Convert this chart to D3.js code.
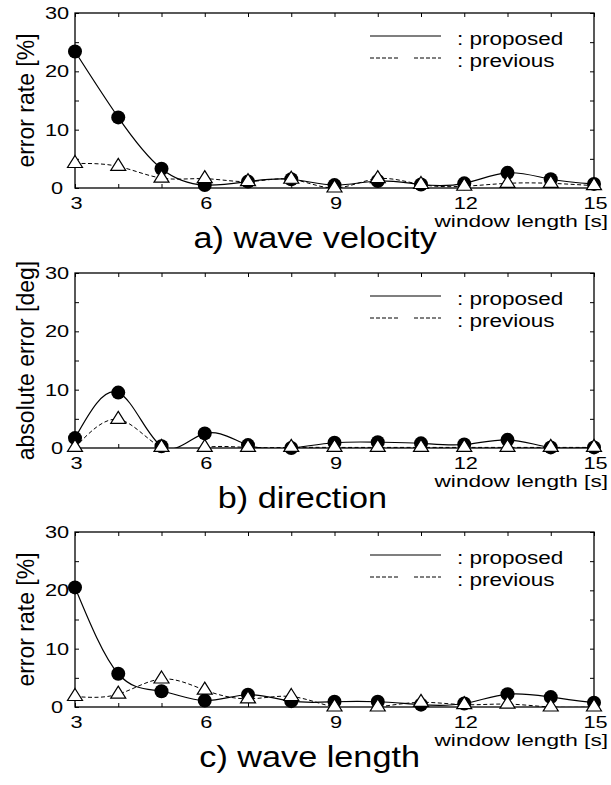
<!DOCTYPE html>
<html>
<head>
<meta charset="utf-8">
<script src="https://cdn.jsdelivr.net/npm/d3@7"></script>
<style>
  html, body { margin: 0; padding: 0; background: #fff; }
  svg { display: block; font-family: "Liberation Sans", Arial, Helvetica, sans-serif; }
</style>
</head>
<body>
<svg id="chart" width="611" height="785"></svg>
<script>
  // values (x = window length in seconds)
  var windowLength = [3, 4, 5, 6, 7, 8, 9, 10, 11, 12, 13, 14, 15];
  var velocityProposed = [23.4, 12.1, 3.3, 0.5, 1.1, 1.5, 0.5, 1.2, 0.6, 0.8, 2.6, 1.5, 0.7];
  var velocityPrevious = [4.2, 3.7, 1.7, 1.6, 1.1, 1.5, 0.0, 1.6, 0.6, 0.3, 0.8, 0.8, 0.4];
  var directionProposed = [1.7, 9.5, 0.3, 2.5, 0.5, 0.0, 0.9, 1.0, 0.8, 0.6, 1.4, 0.1, 0.1];
  var directionPrevious = [0.1, 4.9, 0.1, 0.1, 0.1, 0.1, 0.1, 0.1, 0.1, 0.1, 0.1, 0.1, 0.1];
  var lengthProposed = [20.5, 5.7, 2.7, 1.1, 2.1, 1.0, 0.9, 0.9, 0.4, 0.6, 2.2, 1.7, 0.75];
  var lengthPrevious = [1.8, 2.2, 4.8, 2.9, 1.4, 1.8, 0.0, 0.0, 0.8, 0.4, 0.5, 0.0, 0.0];

  var xLabelTicks = [3, 6, 9, 12, 15];
  var yLabelTicks = [0, 10, 20, 30];
  var yTickMarks = [0, 5, 10, 15, 20, 25, 30];
  var panelTitles = ["a) wave velocity", "b) direction", "c) wave length"];
  var yTitles = ["error rate [%]", "absolute error [deg]", "error rate [%]"];
  var legendNames = [": proposed", ": previous"];
  var xTitle = "window length [s]";

  var svg = d3.select("#chart");
  svg.append("rect").attr("width", 611).attr("height", 785).attr("fill", "#fff");

  var left = 75, right = 594, plotH = 175;
  var tops = [13, 273, 532];
  var titleRight = [437, 387, 420];

  // the original figure is a bit wider than its fonts, so widen the texts
  function stretch(sel, k) {
    sel.each(function () {
      var len = this.getComputedTextLength();
      d3.select(this).attr("textLength", len * k).attr("lengthAdjust", "spacingAndGlyphs");
    });
  }

  function clean(g) {
    g.select(".domain").remove();
    g.selectAll(".tick line").attr("stroke", "#000").attr("stroke-width", 1);
  }

  function drawPanel(i, proposed, previous) {
    var top = tops[i];
    var x = d3.scaleLinear().domain([3, 15]).range([left, right]);
    var y = d3.scaleLinear().domain([0, 30]).range([top + plotH, top]);
    var g = svg.append("g");

    g.append("clipPath").attr("id", "clip" + i)
      .append("rect")
      .attr("x", left).attr("y", top)
      .attr("width", right - left).attr("height", plotH);

    // inward tick marks on all four sides
    g.append("g").attr("transform", "translate(0," + (top + plotH) + ")")
      .call(d3.axisBottom(x).tickValues(windowLength).tickSize(-4).tickFormat("")).call(clean);
    g.append("g").attr("transform", "translate(0," + top + ")")
      .call(d3.axisTop(x).tickValues(windowLength).tickSize(-4).tickFormat("")).call(clean);
    g.append("g").attr("transform", "translate(" + left + ",0)")
      .call(d3.axisLeft(y).tickValues(yTickMarks).tickSize(-4).tickFormat("")).call(clean);
    g.append("g").attr("transform", "translate(" + right + ",0)")
      .call(d3.axisRight(y).tickValues(yTickMarks).tickSize(-4).tickFormat("")).call(clean);

    // tick labels
    var xl = g.append("g").attr("transform", "translate(1," + (top + plotH) + ")")
      .call(d3.axisBottom(x).tickValues(xLabelTicks).tickSize(0).tickPadding(9));
    xl.select(".domain").remove();
    xl.selectAll("text").attr("font-size", 17).attr("font-family", null).attr("fill", "#000")
      .call(stretch, 1.28);

    var yl = g.append("g").attr("transform", "translate(" + left + ",0)")
      .call(d3.axisLeft(y).tickValues(yLabelTicks).tickSize(0));
    yl.select(".domain").remove();
    yl.selectAll("text").attr("font-size", 17).attr("font-family", null).attr("fill", "#000")
      .attr("text-anchor", "middle").attr("x", -18)
      .call(stretch, 1.28);

    // frame
    g.append("rect")
      .attr("x", left).attr("y", top)
      .attr("width", right - left).attr("height", plotH)
      .attr("fill", "none").attr("stroke", "#000").attr("stroke-width", 1.3);

    var line = d3.line()
      .x(function (d) { return x(d[0]); })
      .y(function (d) { return y(d[1]); })
      .curve(d3.curveNatural);

    var propPts = windowLength.map(function (w, k) { return [w, proposed[k]]; });
    var prevPts = windowLength.map(function (w, k) { return [w, previous[k]]; });

    g.append("path").datum(propPts)
      .attr("clip-path", "url(#clip" + i + ")")
      .attr("d", line).attr("fill", "none")
      .attr("stroke", "#000").attr("stroke-width", 1.2);
    g.append("path").datum(prevPts)
      .attr("clip-path", "url(#clip" + i + ")")
      .attr("d", line).attr("fill", "none")
      .attr("stroke", "#000").attr("stroke-width", 1)
      .attr("stroke-dasharray", "4,2.5");

    g.selectAll("circle.prop").data(propPts).enter().append("circle")
      .attr("class", "prop")
      .attr("cx", function (d) { return x(d[0]); })
      .attr("cy", function (d) { return y(d[1]); })
      .attr("r", 7).attr("fill", "#000");

    g.selectAll("path.prev").data(prevPts).enter().append("path")
      .attr("class", "prev")
      .attr("transform", function (d) { return "translate(" + x(d[0]) + "," + y(d[1]) + ")"; })
      .attr("d", "M0,-8L7.5,4L-7.5,4Z")
      .attr("fill", "#fff").attr("stroke", "#000").attr("stroke-width", 1.2);

    // legend
    g.append("line")
      .attr("x1", 370).attr("x2", 441)
      .attr("y1", top + 23).attr("y2", top + 23)
      .attr("stroke", "#000").attr("stroke-width", 1.2);
    g.append("line")
      .attr("x1", 370).attr("x2", 441)
      .attr("y1", top + 45).attr("y2", top + 45)
      .attr("stroke", "#000").attr("stroke-width", 1)
      .attr("stroke-dasharray", "4,2,4,2,4,2,4,2,4,16");
    g.selectAll("text.leg").data(legendNames).enter().append("text")
      .attr("class", "leg")
      .attr("x", 457)
      .attr("y", function (d, k) { return top + 32 + k * 22; })
      .attr("font-size", 18)
      .text(function (d) { return d; })
      .call(stretch, 1.25);

    // axis titles
    g.append("text")
      .attr("transform", "translate(34," + (top + plotH / 2) + ") rotate(-90)")
      .attr("text-anchor", "middle")
      .attr("font-size", 23)
      .text(yTitles[i]);

    g.append("text")
      .attr("x", 608).attr("y", top + plotH + 39)
      .attr("text-anchor", "end")
      .attr("font-size", 17)
      .text(xTitle)
      .call(stretch, 1.33);

    g.append("text")
      .attr("x", titleRight[i]).attr("y", top + 235)
      .attr("text-anchor", "end")
      .attr("font-size", 29)
      .text(panelTitles[i])
      .call(stretch, 1.18);
  }

  drawPanel(0, velocityProposed, velocityPrevious);
  drawPanel(1, directionProposed, directionPrevious);
  drawPanel(2, lengthProposed, lengthPrevious);
</script>
</body>
</html>
